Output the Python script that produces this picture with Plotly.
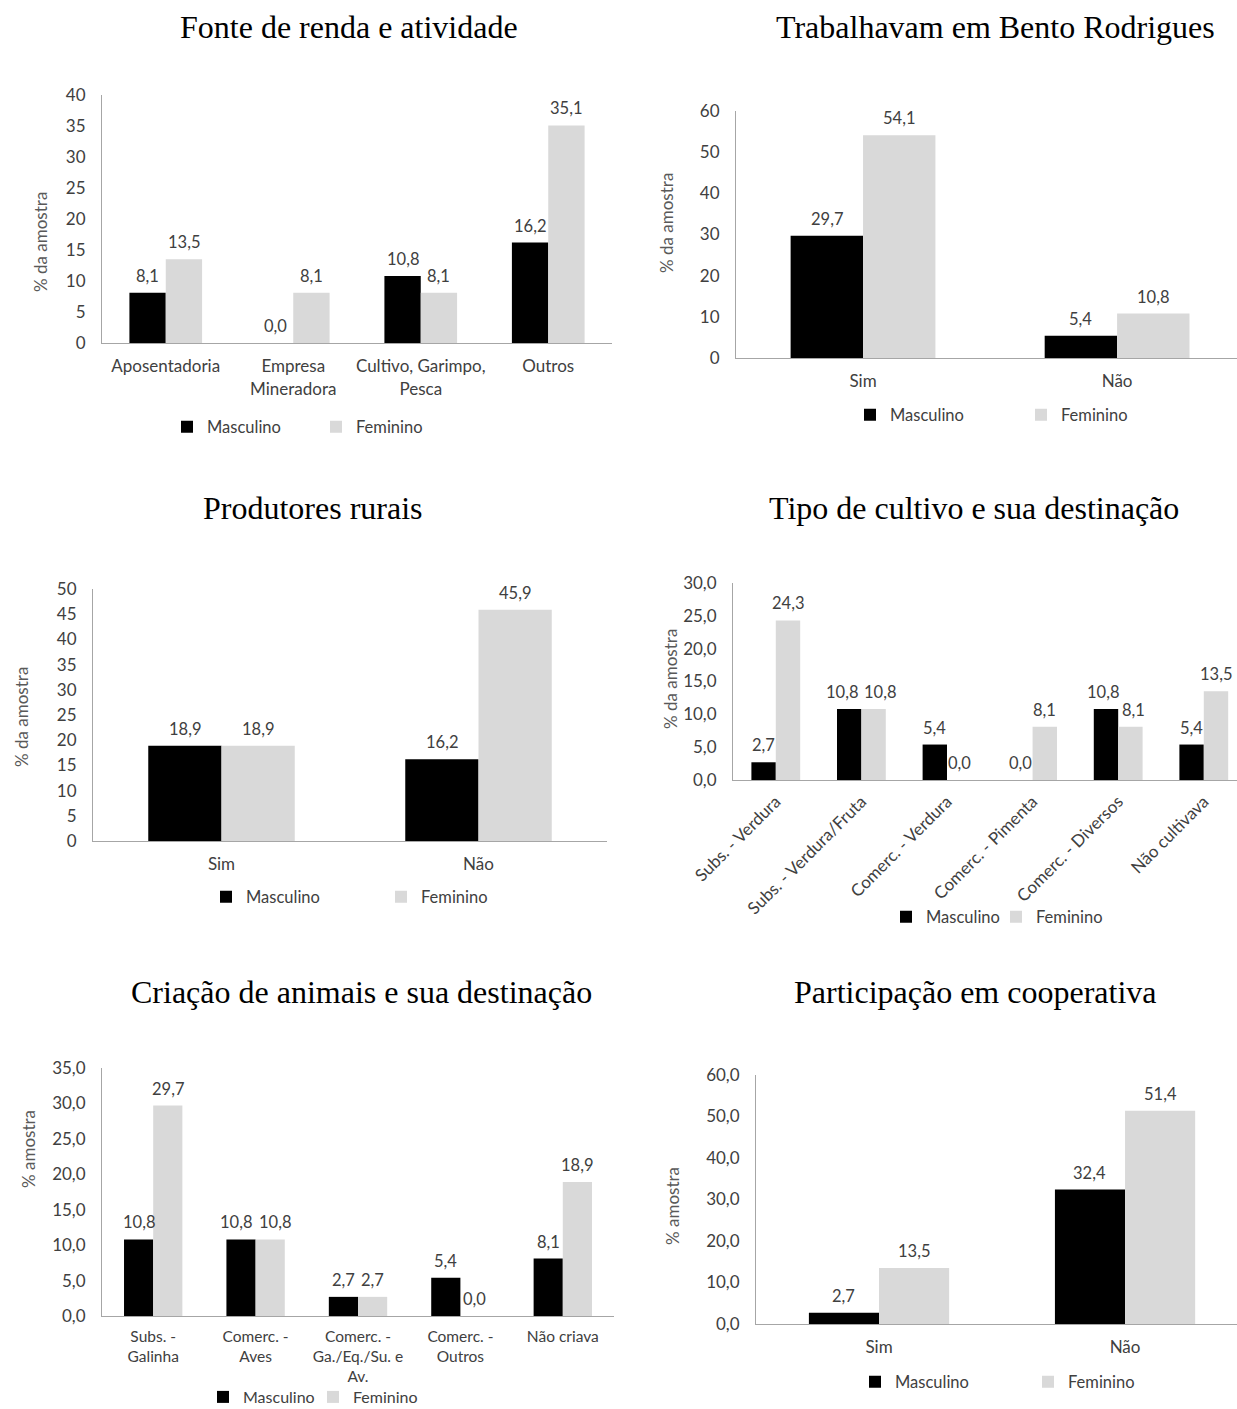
import plotly.graph_objects as go

# ---- data -------------------------------------------------------------
renda_cats = ["Aposentadoria", "Empresa<br>Mineradora", "Cultivo, Garimpo,<br>Pesca", "Outros"]
renda_masc = [8.1, 0.0, 10.8, 16.2]
renda_fem = [13.5, 8.1, 8.1, 35.1]

bento_cats = ["Sim", "Não"]
bento_masc = [29.7, 5.4]
bento_fem = [54.1, 10.8]

produtores_cats = ["Sim", "Não"]
produtores_masc = [18.9, 16.2]
produtores_fem = [18.9, 45.9]

cultivo_cats = ["Subs. - Verdura", "Subs. - Verdura/Fruta", "Comerc. - Verdura",
                "Comerc. - Pimenta", "Comerc. - Diversos", "Não cultivava"]
cultivo_masc = [2.7, 10.8, 5.4, 0.0, 10.8, 5.4]
cultivo_fem = [24.3, 10.8, 0.0, 8.1, 8.1, 13.5]

animais_cats = ["Subs. -<br>Galinha", "Comerc. -<br>Aves", "Comerc. -<br>Ga./Eq./Su. e<br>Av.",
                "Comerc. -<br>Outros", "Não criava"]
animais_masc = [10.8, 10.8, 2.7, 5.4, 8.1]
animais_fem = [29.7, 10.8, 2.7, 0.0, 18.9]

coop_cats = ["Sim", "Não"]
coop_masc = [2.7, 32.4]
coop_fem = [13.5, 51.4]

series_names = ["Masculino", "Feminino"]

# ---- styling ----------------------------------------------------------
W, H = 1237, 1409
MASC_COLOR = "#000000"
FEM_COLOR = "#d9d9d9"
TEXT = "#404040"
AXIS = "#a6a6a6"
SANS = "Lato"
SERIF = "Liberation Serif, Times New Roman, serif"
BARGAP = 0.43
BAR_W = (1 - BARGAP) / 2          # width of one bar, in category units


def px_x(v):
    return v / W


def px_y(v):
    return 1 - v / H


def fmt_br(v):
    """Value label with a decimal comma."""
    return f"{v:.1f}".replace(".", ",")


# panel layout in pixels: plot box, x range end, tick format, titles, legend spot.
# nudge_m / nudge_f move neighbouring value labels sideways (px) so they stay apart.
panels = [
    dict(title="Fonte de renda e atividade", title_xy=(349, 27),
         cats=renda_cats, masc=renda_masc, fem=renda_fem,
         box=(102, 612, 95, 343), yrange=(0, 40), dtick=5, fmt="d", xmax=None,
         ytitle="% da amostra", ytitle_xy=(40, 242), tickangle=0, tickfont=17, standoff=8,
         legend_xy=(167, 427), entry=149, legfont=16.5, nudge_m=None, nudge_f=None),
    dict(title="Trabalhavam em Bento Rodrigues", title_xy=(995, 27),
         cats=bento_cats, masc=bento_masc, fem=bento_fem,
         box=(736, 1237, 111, 358), yrange=(0, 60), dtick=10, fmt="d", xmax=1.472,
         ytitle="% da amostra", ytitle_xy=(666, 223), tickangle=0, tickfont=17, standoff=8,
         legend_xy=(850, 415), entry=171, legfont=16.5, nudge_m=None, nudge_f=None),
    dict(title="Produtores rurais", title_xy=(313, 508),
         cats=produtores_cats, masc=produtores_masc, fem=produtores_fem,
         box=(93, 607, 589, 841), yrange=(0, 50), dtick=5, fmt="d", xmax=None,
         ytitle="% da amostra", ytitle_xy=(22, 717), tickangle=0, tickfont=17, standoff=8,
         legend_xy=(206, 897), entry=175, legfont=16.5, nudge_m=None, nudge_f=None),
    dict(title="Tipo de cultivo e sua destinação", title_xy=(974, 508),
         cats=cultivo_cats, masc=cultivo_masc, fem=cultivo_fem,
         box=(733, 1237, 583, 780), yrange=(0, 30), dtick=5, fmt=".1f", xmax=5.388,
         ytitle="% da amostra", ytitle_xy=(670, 679), tickangle=-45, tickfont=17, standoff=4,
         legend_xy=(886, 917), entry=110, legfont=16.5,
         nudge_m=[0, -7, 0, 0, -3, 0], nudge_f=[0, 6, 0, 0, 3, 0]),
    dict(title="Criação de animais e sua destinação", title_xy=(361, 992),
         cats=animais_cats, masc=animais_masc, fem=animais_fem,
         box=(102, 614, 1068, 1316), yrange=(0, 35), dtick=5, fmt=".1f", xmax=None,
         ytitle="% amostra", ytitle_xy=(28, 1149), tickangle=0, tickfont=15.5, standoff=6,
         legend_xy=(203, 1397), entry=110, legfont=16,
         nudge_m=[0, -5, 0, 0, 0], nudge_f=[0, 5, 0, 0, 0]),
    dict(title="Participação em cooperativa", title_xy=(975, 992),
         cats=coop_cats, masc=coop_masc, fem=coop_fem,
         box=(756, 1237, 1075, 1324), yrange=(0, 60), dtick=10, fmt=".1f", xmax=1.455,
         ytitle="% amostra", ytitle_xy=(672, 1206), tickangle=0, tickfont=17, standoff=8,
         legend_xy=(855, 1382), entry=173, legfont=16.5, nudge_m=None, nudge_f=None),
]

fig = go.Figure()
layout = dict(
    width=W, height=H,
    # fixed frame: legends sitting near the bottom edge must not shrink the plots
    margin=dict(l=0, r=0, t=0, b=0, autoexpand=False),
    paper_bgcolor="white", plot_bgcolor="white",
    barmode="group", bargap=BARGAP, bargroupgap=0,
    separators=",.",
    font=dict(family=SANS, size=17, color=TEXT),
    annotations=[],
)

for i, p in enumerate(panels, start=1):
    sfx = "" if i == 1 else str(i)
    xa, ya = f"x{sfx}", f"y{sfx}"
    leg = f"legend{sfx}"
    n = len(p["cats"])
    series = (
        (series_names[0], p["masc"], MASC_COLOR, -BAR_W / 2, p["nudge_m"] or [0] * n),
        (series_names[1], p["fem"], FEM_COLOR, BAR_W / 2, p["nudge_f"] or [0] * n),
    )
    for name, vals, color, offset, nudges in series:
        fig.add_trace(go.Bar(
            x=p["cats"], y=vals, name=name,
            marker=dict(color=color, line=dict(width=0)),
            xaxis=xa, yaxis=ya, legend=leg,
            hovertemplate="%{x}: %{y:.1f}<extra>" + name + "</extra>",
        ))
        # value label above each bar, placed on the bar's own x/y scale
        for k, v in enumerate(vals):
            layout["annotations"].append(dict(
                text=fmt_br(v), x=k + offset, y=v, xref=xa, yref=ya,
                xanchor="center", yanchor="bottom", showarrow=False,
                xshift=nudges[k], yshift=5,
                font=dict(family=SANS, size=16.5, color=TEXT),
            ))

    x0, x1, y0, y1 = p["box"]
    xmax = p["xmax"] if p["xmax"] is not None else n - 0.5
    layout[f"xaxis{sfx}"] = dict(
        domain=[px_x(x0), px_x(x1)], anchor=ya, range=[-0.5, xmax],
        showline=True, linecolor=AXIS, linewidth=1, showgrid=False, zeroline=False,
        ticks="", tickangle=p["tickangle"], ticklabelstandoff=p["standoff"],
        tickfont=dict(family=SANS, size=p["tickfont"], color=TEXT),
        automargin=False, fixedrange=True,
    )
    layout[f"yaxis{sfx}"] = dict(
        domain=[px_y(y1), px_y(y0)], anchor=xa, range=list(p["yrange"]),
        dtick=p["dtick"], tick0=0, tickformat=p["fmt"],
        showline=True, linecolor=AXIS, linewidth=1, showgrid=False, zeroline=False,
        ticks="", ticklabelstandoff=12,
        tickfont=dict(family=SANS, size=17, color=TEXT), automargin=False, fixedrange=True,
    )
    lx, ly = p["legend_xy"]
    layout[leg] = dict(
        orientation="h", x=px_x(lx), y=px_y(ly), xanchor="left", yanchor="middle",
        bgcolor="rgba(0,0,0,0)", borderwidth=0,
        font=dict(family=SANS, size=p["legfont"], color=TEXT),
        entrywidth=p["entry"] - 45, entrywidthmode="pixels",
        itemclick=False, itemdoubleclick=False,
    )
    tx, ty = p["title_xy"]
    layout["annotations"].append(dict(
        text=p["title"], x=px_x(tx), y=px_y(ty), xref="paper", yref="paper",
        xanchor="center", yanchor="middle", showarrow=False,
        font=dict(family=SERIF, size=32, color="#000000"),
    ))
    ax, ay = p["ytitle_xy"]
    layout["annotations"].append(dict(
        text=p["ytitle"], x=px_x(ax), y=px_y(ay), xref="paper", yref="paper",
        xanchor="center", yanchor="middle", showarrow=False, textangle=-90,
        font=dict(family=SANS, size=17, color="#595959"),
    ))

fig.update_layout(**layout)
fig.write_html("out.html")
